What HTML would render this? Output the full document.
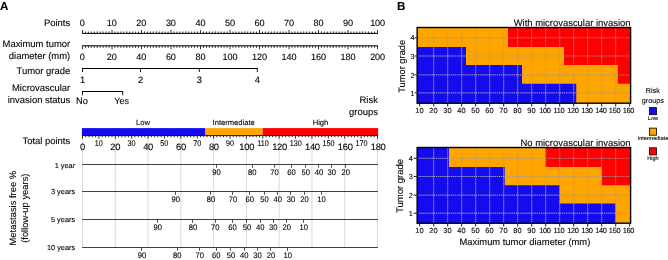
<!DOCTYPE html>
<html lang="en">
<head>
<meta charset="utf-8">
<title>Nomogram and risk groups</title>
<style>
html,body{margin:0;padding:0;background:#fff;}
body{width:668px;height:260px;overflow:hidden;}
svg{display:block;font-family:"Liberation Sans",sans-serif;fill:#000;}
svg text{fill:#000;stroke:#000;stroke-width:0.1px;text-rendering:geometricPrecision;}
</style>
</head>
<body>
<svg width="668" height="260" viewBox="0 0 668 260">
<rect x="0" y="0" width="668" height="260" fill="#fff"/>
<text x="0" y="10.4" font-size="11.6" font-weight="bold">A</text>
<text x="396.9" y="10.4" font-size="11.6" font-weight="bold">B</text>
<text transform="translate(70.2 25.8) scale(1 1.0)" font-size="9.45" text-anchor="end">Points</text>
<line x1="82.1" y1="33.4" x2="378.0" y2="33.4" stroke="#000" stroke-width="1"/>
<path d="M82.50 33.4v-3.5M85.45 33.4v-1.9M88.40 33.4v-1.9M91.35 33.4v-1.9M94.30 33.4v-1.9M97.25 33.4v-2.1M100.20 33.4v-1.9M103.15 33.4v-1.9M106.10 33.4v-1.9M109.05 33.4v-1.9M112.00 33.4v-3.5M114.95 33.4v-1.9M117.90 33.4v-1.9M120.85 33.4v-1.9M123.80 33.4v-1.9M126.75 33.4v-2.1M129.70 33.4v-1.9M132.65 33.4v-1.9M135.60 33.4v-1.9M138.55 33.4v-1.9M141.50 33.4v-3.5M144.45 33.4v-1.9M147.40 33.4v-1.9M150.35 33.4v-1.9M153.30 33.4v-1.9M156.25 33.4v-2.1M159.20 33.4v-1.9M162.15 33.4v-1.9M165.10 33.4v-1.9M168.05 33.4v-1.9M171.00 33.4v-3.5M173.95 33.4v-1.9M176.90 33.4v-1.9M179.85 33.4v-1.9M182.80 33.4v-1.9M185.75 33.4v-2.1M188.70 33.4v-1.9M191.65 33.4v-1.9M194.60 33.4v-1.9M197.55 33.4v-1.9M200.50 33.4v-3.5M203.45 33.4v-1.9M206.40 33.4v-1.9M209.35 33.4v-1.9M212.30 33.4v-1.9M215.25 33.4v-2.1M218.20 33.4v-1.9M221.15 33.4v-1.9M224.10 33.4v-1.9M227.05 33.4v-1.9M230.00 33.4v-3.5M232.95 33.4v-1.9M235.90 33.4v-1.9M238.85 33.4v-1.9M241.80 33.4v-1.9M244.75 33.4v-2.1M247.70 33.4v-1.9M250.65 33.4v-1.9M253.60 33.4v-1.9M256.55 33.4v-1.9M259.50 33.4v-3.5M262.45 33.4v-1.9M265.40 33.4v-1.9M268.35 33.4v-1.9M271.30 33.4v-1.9M274.25 33.4v-2.1M277.20 33.4v-1.9M280.15 33.4v-1.9M283.10 33.4v-1.9M286.05 33.4v-1.9M289.00 33.4v-3.5M291.95 33.4v-1.9M294.90 33.4v-1.9M297.85 33.4v-1.9M300.80 33.4v-1.9M303.75 33.4v-2.1M306.70 33.4v-1.9M309.65 33.4v-1.9M312.60 33.4v-1.9M315.55 33.4v-1.9M318.50 33.4v-3.5M321.45 33.4v-1.9M324.40 33.4v-1.9M327.35 33.4v-1.9M330.30 33.4v-1.9M333.25 33.4v-2.1M336.20 33.4v-1.9M339.15 33.4v-1.9M342.10 33.4v-1.9M345.05 33.4v-1.9M348.00 33.4v-3.5M350.95 33.4v-1.9M353.90 33.4v-1.9M356.85 33.4v-1.9M359.80 33.4v-1.9M362.75 33.4v-2.1M365.70 33.4v-1.9M368.65 33.4v-1.9M371.60 33.4v-1.9M374.55 33.4v-1.9M377.50 33.4v-3.5" stroke="#000" stroke-width="0.8" fill="none"/>
<text transform="translate(82.25 25.6) scale(1 1.0)" font-size="9.1" text-anchor="middle" letter-spacing="-0.1">0</text>
<text transform="translate(111.78 25.6) scale(1 1.0)" font-size="9.1" text-anchor="middle" letter-spacing="-0.1">10</text>
<text transform="translate(141.32 25.6) scale(1 1.0)" font-size="9.1" text-anchor="middle" letter-spacing="-0.1">20</text>
<text transform="translate(170.85 25.6) scale(1 1.0)" font-size="9.1" text-anchor="middle" letter-spacing="-0.1">30</text>
<text transform="translate(200.39 25.6) scale(1 1.0)" font-size="9.1" text-anchor="middle" letter-spacing="-0.1">40</text>
<text transform="translate(229.93 25.6) scale(1 1.0)" font-size="9.1" text-anchor="middle" letter-spacing="-0.1">50</text>
<text transform="translate(259.46 25.6) scale(1 1.0)" font-size="9.1" text-anchor="middle" letter-spacing="-0.1">60</text>
<text transform="translate(289.0 25.6) scale(1 1.0)" font-size="9.1" text-anchor="middle" letter-spacing="-0.1">70</text>
<text transform="translate(318.53 25.6) scale(1 1.0)" font-size="9.1" text-anchor="middle" letter-spacing="-0.1">80</text>
<text transform="translate(348.06 25.6) scale(1 1.0)" font-size="9.1" text-anchor="middle" letter-spacing="-0.1">90</text>
<text transform="translate(377.6 25.6) scale(1 1.0)" font-size="9.1" text-anchor="middle" letter-spacing="-0.1">100</text>
<text transform="translate(70.2 47.3) scale(1 1.0)" font-size="9.45" text-anchor="end">Maximum tumor</text>
<text transform="translate(70.2 58.9) scale(1 1.0)" font-size="9.45" text-anchor="end">diameter (mm)</text>
<line x1="82.1" y1="45.8" x2="378.0" y2="45.8" stroke="#000" stroke-width="1"/>
<path d="M82.50 45.8v3.4M85.45 45.8v2.0M88.40 45.8v2.0M91.35 45.8v2.0M94.30 45.8v2.0M97.25 45.8v2.2M100.20 45.8v2.0M103.15 45.8v2.0M106.10 45.8v2.0M109.05 45.8v2.0M112.00 45.8v3.4M114.95 45.8v2.0M117.90 45.8v2.0M120.85 45.8v2.0M123.80 45.8v2.0M126.75 45.8v2.2M129.70 45.8v2.0M132.65 45.8v2.0M135.60 45.8v2.0M138.55 45.8v2.0M141.50 45.8v3.4M144.45 45.8v2.0M147.40 45.8v2.0M150.35 45.8v2.0M153.30 45.8v2.0M156.25 45.8v2.2M159.20 45.8v2.0M162.15 45.8v2.0M165.10 45.8v2.0M168.05 45.8v2.0M171.00 45.8v3.4M173.95 45.8v2.0M176.90 45.8v2.0M179.85 45.8v2.0M182.80 45.8v2.0M185.75 45.8v2.2M188.70 45.8v2.0M191.65 45.8v2.0M194.60 45.8v2.0M197.55 45.8v2.0M200.50 45.8v3.4M203.45 45.8v2.0M206.40 45.8v2.0M209.35 45.8v2.0M212.30 45.8v2.0M215.25 45.8v2.2M218.20 45.8v2.0M221.15 45.8v2.0M224.10 45.8v2.0M227.05 45.8v2.0M230.00 45.8v3.4M232.95 45.8v2.0M235.90 45.8v2.0M238.85 45.8v2.0M241.80 45.8v2.0M244.75 45.8v2.2M247.70 45.8v2.0M250.65 45.8v2.0M253.60 45.8v2.0M256.55 45.8v2.0M259.50 45.8v3.4M262.45 45.8v2.0M265.40 45.8v2.0M268.35 45.8v2.0M271.30 45.8v2.0M274.25 45.8v2.2M277.20 45.8v2.0M280.15 45.8v2.0M283.10 45.8v2.0M286.05 45.8v2.0M289.00 45.8v3.4M291.95 45.8v2.0M294.90 45.8v2.0M297.85 45.8v2.0M300.80 45.8v2.0M303.75 45.8v2.2M306.70 45.8v2.0M309.65 45.8v2.0M312.60 45.8v2.0M315.55 45.8v2.0M318.50 45.8v3.4M321.45 45.8v2.0M324.40 45.8v2.0M327.35 45.8v2.0M330.30 45.8v2.0M333.25 45.8v2.2M336.20 45.8v2.0M339.15 45.8v2.0M342.10 45.8v2.0M345.05 45.8v2.0M348.00 45.8v3.4M350.95 45.8v2.0M353.90 45.8v2.0M356.85 45.8v2.0M359.80 45.8v2.0M362.75 45.8v2.2M365.70 45.8v2.0M368.65 45.8v2.0M371.60 45.8v2.0M374.55 45.8v2.0M377.50 45.8v3.4" stroke="#000" stroke-width="0.8" fill="none"/>
<text transform="translate(82.25 60.4) scale(1 1.0)" font-size="9.1" text-anchor="middle" letter-spacing="-0.1">0</text>
<text transform="translate(111.78 60.4) scale(1 1.0)" font-size="9.1" text-anchor="middle" letter-spacing="-0.1">20</text>
<text transform="translate(141.32 60.4) scale(1 1.0)" font-size="9.1" text-anchor="middle" letter-spacing="-0.1">40</text>
<text transform="translate(170.85 60.4) scale(1 1.0)" font-size="9.1" text-anchor="middle" letter-spacing="-0.1">60</text>
<text transform="translate(200.39 60.4) scale(1 1.0)" font-size="9.1" text-anchor="middle" letter-spacing="-0.1">80</text>
<text transform="translate(229.93 60.4) scale(1 1.0)" font-size="9.1" text-anchor="middle" letter-spacing="-0.1">100</text>
<text transform="translate(259.46 60.4) scale(1 1.0)" font-size="9.1" text-anchor="middle" letter-spacing="-0.1">120</text>
<text transform="translate(289.0 60.4) scale(1 1.0)" font-size="9.1" text-anchor="middle" letter-spacing="-0.1">140</text>
<text transform="translate(318.53 60.4) scale(1 1.0)" font-size="9.1" text-anchor="middle" letter-spacing="-0.1">160</text>
<text transform="translate(348.06 60.4) scale(1 1.0)" font-size="9.1" text-anchor="middle" letter-spacing="-0.1">180</text>
<text transform="translate(377.6 60.4) scale(1 1.0)" font-size="9.1" text-anchor="middle" letter-spacing="-0.1">200</text>
<text transform="translate(70.2 74.3) scale(1 1.0)" font-size="9.45" text-anchor="end">Tumor grade</text>
<line x1="82.0" y1="68.5" x2="257.8" y2="68.5" stroke="#000" stroke-width="1"/>
<line x1="82.5" y1="68.5" x2="82.5" y2="72.0" stroke="#000" stroke-width="0.9"/>
<text transform="translate(82.5 83.25) scale(1 1.0)" font-size="9.4" text-anchor="middle">1</text>
<line x1="140.5" y1="68.5" x2="140.5" y2="72.0" stroke="#000" stroke-width="0.9"/>
<text transform="translate(140.5 83.25) scale(1 1.0)" font-size="9.4" text-anchor="middle">2</text>
<line x1="199.3" y1="68.5" x2="199.3" y2="72.0" stroke="#000" stroke-width="0.9"/>
<text transform="translate(199.3 83.25) scale(1 1.0)" font-size="9.4" text-anchor="middle">3</text>
<line x1="257.3" y1="68.5" x2="257.3" y2="72.0" stroke="#000" stroke-width="0.9"/>
<text transform="translate(257.3 83.25) scale(1 1.0)" font-size="9.4" text-anchor="middle">4</text>
<text transform="translate(70.2 91.4) scale(1 1.0)" font-size="9.45" text-anchor="end">Microvascular</text>
<text transform="translate(70.2 102.5) scale(1 1.0)" font-size="9.45" text-anchor="end">invasion status</text>
<line x1="82" y1="91.5" x2="123.2" y2="91.5" stroke="#000" stroke-width="1"/>
<line x1="82.5" y1="91.5" x2="82.5" y2="95.3" stroke="#000" stroke-width="0.9"/>
<text transform="translate(81.9 104.0) scale(1 1.0)" font-size="9.3" text-anchor="middle">No</text>
<line x1="122.7" y1="91.5" x2="122.7" y2="95.3" stroke="#000" stroke-width="0.9"/>
<text transform="translate(121.7 104.0) scale(1 1.0)" font-size="9.0" text-anchor="middle">Yes</text>
<text transform="translate(377.9 103.4) scale(1 1.0)" font-size="9.45" text-anchor="end">Risk</text>
<text transform="translate(377.9 115.2) scale(1 1.0)" font-size="9.45" text-anchor="end">groups</text>
<line x1="82.5" y1="135" x2="82.5" y2="247.5" stroke="#d9d9d9" stroke-width="1"/>
<line x1="115.28" y1="135" x2="115.28" y2="247.5" stroke="#d9d9d9" stroke-width="1"/>
<line x1="148.06" y1="135" x2="148.06" y2="247.5" stroke="#d9d9d9" stroke-width="1"/>
<line x1="180.83" y1="135" x2="180.83" y2="247.5" stroke="#d9d9d9" stroke-width="1"/>
<line x1="213.61" y1="135" x2="213.61" y2="247.5" stroke="#d9d9d9" stroke-width="1"/>
<line x1="246.39" y1="135" x2="246.39" y2="247.5" stroke="#d9d9d9" stroke-width="1"/>
<line x1="279.17" y1="135" x2="279.17" y2="247.5" stroke="#d9d9d9" stroke-width="1"/>
<line x1="311.94" y1="135" x2="311.94" y2="247.5" stroke="#d9d9d9" stroke-width="1"/>
<line x1="344.72" y1="135" x2="344.72" y2="247.5" stroke="#d9d9d9" stroke-width="1"/>
<line x1="377.5" y1="135" x2="377.5" y2="247.5" stroke="#d9d9d9" stroke-width="1"/>
<rect x="81.9" y="128.1" width="123.52" height="7.4" fill="#140cee"/>
<rect x="205.42" y="128.1" width="57.28" height="7.4" fill="#ffa500"/>
<rect x="262.70" y="128.1" width="115.40" height="7.4" fill="#ff0000"/>
<text transform="translate(142.9 124.5) scale(1 1.0)" font-size="7.6" text-anchor="middle">Low</text>
<text transform="translate(233.7 124.5) scale(1 1.0)" font-size="7.6" text-anchor="middle">Intermediate</text>
<text transform="translate(320.5 124.5) scale(1 1.0)" font-size="7.6" text-anchor="middle">High</text>
<line x1="82.1" y1="135.6" x2="378.0" y2="135.6" stroke="#000" stroke-width="0.9"/>
<path d="M82.50 135.6v3.0M85.78 135.6v1.7M89.06 135.6v1.7M92.33 135.6v1.7M95.61 135.6v1.7M98.89 135.6v3.0M102.17 135.6v1.7M105.44 135.6v1.7M108.72 135.6v1.7M112.00 135.6v1.7M115.28 135.6v3.0M118.56 135.6v1.7M121.83 135.6v1.7M125.11 135.6v1.7M128.39 135.6v1.7M131.67 135.6v3.0M134.94 135.6v1.7M138.22 135.6v1.7M141.50 135.6v1.7M144.78 135.6v1.7M148.06 135.6v3.0M151.33 135.6v1.7M154.61 135.6v1.7M157.89 135.6v1.7M161.17 135.6v1.7M164.44 135.6v3.0M167.72 135.6v1.7M171.00 135.6v1.7M174.28 135.6v1.7M177.56 135.6v1.7M180.83 135.6v3.0M184.11 135.6v1.7M187.39 135.6v1.7M190.67 135.6v1.7M193.94 135.6v1.7M197.22 135.6v3.0M200.50 135.6v1.7M203.78 135.6v1.7M207.06 135.6v1.7M210.33 135.6v1.7M213.61 135.6v3.0M216.89 135.6v1.7M220.17 135.6v1.7M223.44 135.6v1.7M226.72 135.6v1.7M230.00 135.6v3.0M233.28 135.6v1.7M236.56 135.6v1.7M239.83 135.6v1.7M243.11 135.6v1.7M246.39 135.6v3.0M249.67 135.6v1.7M252.94 135.6v1.7M256.22 135.6v1.7M259.50 135.6v1.7M262.78 135.6v3.0M266.06 135.6v1.7M269.33 135.6v1.7M272.61 135.6v1.7M275.89 135.6v1.7M279.17 135.6v3.0M282.44 135.6v1.7M285.72 135.6v1.7M289.00 135.6v1.7M292.28 135.6v1.7M295.56 135.6v3.0M298.83 135.6v1.7M302.11 135.6v1.7M305.39 135.6v1.7M308.67 135.6v1.7M311.94 135.6v3.0M315.22 135.6v1.7M318.50 135.6v1.7M321.78 135.6v1.7M325.06 135.6v1.7M328.33 135.6v3.0M331.61 135.6v1.7M334.89 135.6v1.7M338.17 135.6v1.7M341.44 135.6v1.7M344.72 135.6v3.0M348.00 135.6v1.7M351.28 135.6v1.7M354.56 135.6v1.7M357.83 135.6v1.7M361.11 135.6v3.0M364.39 135.6v1.7M367.67 135.6v1.7M370.94 135.6v1.7M374.22 135.6v1.7M377.50 135.6v3.0" stroke="#000" stroke-width="0.8" fill="none"/>
<text transform="translate(70.2 143.8) scale(1 1.0)" font-size="9.45" text-anchor="end">Total points</text>
<text transform="translate(82.4 150.0) scale(1 1.0)" font-size="9.4" text-anchor="middle" letter-spacing="-0.3">0</text>
<text transform="translate(98.63 145.6) scale(1 1.15)" font-size="7.2" text-anchor="middle">10</text>
<text transform="translate(115.26 150.0) scale(1 1.0)" font-size="9.4" text-anchor="middle" letter-spacing="-0.3">20</text>
<text transform="translate(131.48 145.6) scale(1 1.15)" font-size="7.2" text-anchor="middle">30</text>
<text transform="translate(148.11 150.0) scale(1 1.0)" font-size="9.4" text-anchor="middle" letter-spacing="-0.3">40</text>
<text transform="translate(164.34 145.6) scale(1 1.15)" font-size="7.2" text-anchor="middle">50</text>
<text transform="translate(180.97 150.0) scale(1 1.0)" font-size="9.4" text-anchor="middle" letter-spacing="-0.3">60</text>
<text transform="translate(197.19 145.6) scale(1 1.15)" font-size="7.2" text-anchor="middle">70</text>
<text transform="translate(213.82 150.0) scale(1 1.0)" font-size="9.4" text-anchor="middle" letter-spacing="-0.3">80</text>
<text transform="translate(230.05 145.6) scale(1 1.15)" font-size="7.2" text-anchor="middle">90</text>
<text transform="translate(246.68 150.0) scale(1 1.0)" font-size="9.4" text-anchor="middle" letter-spacing="-0.3">100</text>
<text transform="translate(262.91 145.6) scale(1 1.15)" font-size="7.2" text-anchor="middle">110</text>
<text transform="translate(279.53 150.0) scale(1 1.0)" font-size="9.4" text-anchor="middle" letter-spacing="-0.3">120</text>
<text transform="translate(295.76 145.6) scale(1 1.15)" font-size="7.2" text-anchor="middle">130</text>
<text transform="translate(312.39 150.0) scale(1 1.0)" font-size="9.4" text-anchor="middle" letter-spacing="-0.3">140</text>
<text transform="translate(328.62 145.6) scale(1 1.15)" font-size="7.2" text-anchor="middle">150</text>
<text transform="translate(345.24 150.0) scale(1 1.0)" font-size="9.4" text-anchor="middle" letter-spacing="-0.3">160</text>
<text transform="translate(361.47 145.6) scale(1 1.15)" font-size="7.2" text-anchor="middle">170</text>
<text transform="translate(378.1 150.0) scale(1 1.0)" font-size="9.4" text-anchor="middle" letter-spacing="-0.3">180</text>
<line x1="82.2" y1="164.5" x2="377.9" y2="164.5" stroke="#2a2a2a" stroke-width="0.9"/>
<text x="75.1" y="167.5" font-size="7.35" text-anchor="end">1 year</text>
<text transform="translate(216.45 174.9) scale(1 1.05)" font-size="7.65" text-anchor="middle">90</text>
<text transform="translate(252.2 174.9) scale(1 1.05)" font-size="7.65" text-anchor="middle">80</text>
<text transform="translate(274.6 174.9) scale(1 1.05)" font-size="7.65" text-anchor="middle">70</text>
<text transform="translate(291.4 174.9) scale(1 1.05)" font-size="7.65" text-anchor="middle">60</text>
<text transform="translate(305.7 174.9) scale(1 1.05)" font-size="7.65" text-anchor="middle">50</text>
<text transform="translate(319.1 174.9) scale(1 1.05)" font-size="7.65" text-anchor="middle">40</text>
<text transform="translate(331.8 174.9) scale(1 1.05)" font-size="7.65" text-anchor="middle">30</text>
<text transform="translate(345.7 174.9) scale(1 1.05)" font-size="7.65" text-anchor="middle">20</text>
<path d="M216.5 164.5v3.3M252.5 164.5v3.3M274.5 164.5v3.3M291.5 164.5v3.3M305.5 164.5v3.3M318.5 164.5v3.3M331.5 164.5v3.3M345.5 164.5v3.3" stroke="#222" stroke-width="0.8" fill="none"/>
<line x1="82.2" y1="191.5" x2="377.9" y2="191.5" stroke="#2a2a2a" stroke-width="0.9"/>
<text x="75.1" y="193.5" font-size="7.35" text-anchor="end">3 years</text>
<text transform="translate(175.7 201.9) scale(1 1.05)" font-size="7.65" text-anchor="middle">90</text>
<text transform="translate(210.95 201.9) scale(1 1.05)" font-size="7.65" text-anchor="middle">80</text>
<text transform="translate(232.95 201.9) scale(1 1.05)" font-size="7.65" text-anchor="middle">70</text>
<text transform="translate(249.7 201.9) scale(1 1.05)" font-size="7.65" text-anchor="middle">60</text>
<text transform="translate(264.45 201.9) scale(1 1.05)" font-size="7.65" text-anchor="middle">50</text>
<text transform="translate(277.8 201.9) scale(1 1.05)" font-size="7.65" text-anchor="middle">40</text>
<text transform="translate(290.9 201.9) scale(1 1.05)" font-size="7.65" text-anchor="middle">30</text>
<text transform="translate(304.4 201.9) scale(1 1.05)" font-size="7.65" text-anchor="middle">20</text>
<text transform="translate(321.45 201.9) scale(1 1.05)" font-size="7.65" text-anchor="middle">10</text>
<path d="M175.5 191.5v3.3M210.5 191.5v3.3M232.5 191.5v3.3M249.5 191.5v3.3M264.5 191.5v3.3M277.5 191.5v3.3M290.5 191.5v3.3M304.5 191.5v3.3M321.5 191.5v3.3" stroke="#222" stroke-width="0.8" fill="none"/>
<line x1="82.2" y1="219.5" x2="377.9" y2="219.5" stroke="#2a2a2a" stroke-width="0.9"/>
<text x="75.1" y="221.6" font-size="7.35" text-anchor="end">5 years</text>
<text transform="translate(157.7 229.9) scale(1 1.05)" font-size="7.65" text-anchor="middle">90</text>
<text transform="translate(192.95 229.9) scale(1 1.05)" font-size="7.65" text-anchor="middle">80</text>
<text transform="translate(215.2 229.9) scale(1 1.05)" font-size="7.65" text-anchor="middle">70</text>
<text transform="translate(232.6 229.9) scale(1 1.05)" font-size="7.65" text-anchor="middle">60</text>
<text transform="translate(246.95 229.9) scale(1 1.05)" font-size="7.65" text-anchor="middle">50</text>
<text transform="translate(260.2 229.9) scale(1 1.05)" font-size="7.65" text-anchor="middle">40</text>
<text transform="translate(273.2 229.9) scale(1 1.05)" font-size="7.65" text-anchor="middle">30</text>
<text transform="translate(286.7 229.9) scale(1 1.05)" font-size="7.65" text-anchor="middle">20</text>
<text transform="translate(303.7 229.9) scale(1 1.05)" font-size="7.65" text-anchor="middle">10</text>
<path d="M157.5 219.5v3.3M192.5 219.5v3.3M215.5 219.5v3.3M232.5 219.5v3.3M246.5 219.5v3.3M260.5 219.5v3.3M273.5 219.5v3.3M286.5 219.5v3.3M303.5 219.5v3.3" stroke="#222" stroke-width="0.8" fill="none"/>
<line x1="82.2" y1="247.5" x2="377.9" y2="247.5" stroke="#2a2a2a" stroke-width="0.9"/>
<text x="75.1" y="249.6" font-size="7.35" text-anchor="end">10 years</text>
<text transform="translate(141.95 257.9) scale(1 1.05)" font-size="7.65" text-anchor="middle">90</text>
<text transform="translate(177.2 257.9) scale(1 1.05)" font-size="7.65" text-anchor="middle">80</text>
<text transform="translate(199.7 257.9) scale(1 1.05)" font-size="7.65" text-anchor="middle">70</text>
<text transform="translate(216.2 257.9) scale(1 1.05)" font-size="7.65" text-anchor="middle">60</text>
<text transform="translate(230.95 257.9) scale(1 1.05)" font-size="7.65" text-anchor="middle">50</text>
<text transform="translate(244.3 257.9) scale(1 1.05)" font-size="7.65" text-anchor="middle">40</text>
<text transform="translate(257.45 257.9) scale(1 1.05)" font-size="7.65" text-anchor="middle">30</text>
<text transform="translate(270.95 257.9) scale(1 1.05)" font-size="7.65" text-anchor="middle">20</text>
<text transform="translate(287.7 257.9) scale(1 1.05)" font-size="7.65" text-anchor="middle">10</text>
<path d="M141.5 247.5v3.3M177.5 247.5v3.3M199.5 247.5v3.3M216.5 247.5v3.3M230.5 247.5v3.3M244.5 247.5v3.3M257.5 247.5v3.3M270.5 247.5v3.3M287.5 247.5v3.3" stroke="#222" stroke-width="0.8" fill="none"/>
<text transform="translate(16.1 208.2) rotate(-90)" font-size="9.4" text-anchor="middle">Metastasis free %</text>
<text transform="translate(27.8 208.2) rotate(-90)" font-size="9.4" text-anchor="middle">(follow-up years)</text>
<rect x="417.15" y="27.5" width="213.45" height="75.70" fill="#ffa500"/>
<polygon points="417.15,27.5 417.15,27.5 417.15,46.9 466,46.9 466,65.1 522,65.1 522,83.7 576.25,83.7 576.25,103.2 417.15,103.2" fill="#140cee"/>
<clipPath id="bluezone1"><polygon points="417.15,27.5 417.15,27.5 417.15,46.9 466,46.9 466,65.1 522,65.1 522,83.7 576.25,83.7 576.25,103.2 417.15,103.2"/></clipPath>
<polygon points="630.6,27.5 508,27.5 508,46.9 564,46.9 564,65.1 617.75,65.1 617.75,83.7 630.6,83.7 630.6,103.2 630.6,103.2" fill="#ff0000"/>
<path d="M433.70 27.5V103.2M447.70 27.5V103.2M461.70 27.5V103.2M475.70 27.5V103.2M489.70 27.5V103.2M503.70 27.5V103.2M517.70 27.5V103.2M531.70 27.5V103.2M545.70 27.5V103.2M559.70 27.5V103.2M573.70 27.5V103.2M587.70 27.5V103.2M601.70 27.5V103.2M615.70 27.5V103.2M417.15 37.8H630.6M417.15 56.0H630.6M417.15 74.9H630.6M417.15 92.9H630.6" stroke="#8c8c8c" stroke-width="1" fill="none" opacity="0.28"/>
<path d="M433.70 27.5V103.2M447.70 27.5V103.2M461.70 27.5V103.2M475.70 27.5V103.2M489.70 27.5V103.2M503.70 27.5V103.2M517.70 27.5V103.2M531.70 27.5V103.2M545.70 27.5V103.2M559.70 27.5V103.2M573.70 27.5V103.2M587.70 27.5V103.2M601.70 27.5V103.2M615.70 27.5V103.2M417.15 37.8H630.6M417.15 56.0H630.6M417.15 74.9H630.6M417.15 92.9H630.6" stroke="#a8a8a8" stroke-width="1.0" stroke-dasharray="1.1 1.0" fill="none" opacity="0.6"/>
<path d="M433.70 27.5V103.2M447.70 27.5V103.2M461.70 27.5V103.2M475.70 27.5V103.2M489.70 27.5V103.2M503.70 27.5V103.2M517.70 27.5V103.2M531.70 27.5V103.2M545.70 27.5V103.2M559.70 27.5V103.2M573.70 27.5V103.2M587.70 27.5V103.2M601.70 27.5V103.2M615.70 27.5V103.2M417.15 37.8H630.6M417.15 56.0H630.6M417.15 74.9H630.6M417.15 92.9H630.6" clip-path="url(#bluezone1)" stroke="#d0d0ff" stroke-width="1.0" stroke-dasharray="1.1 1.0" fill="none" opacity="0.35"/>
<rect x="417.15" y="27.5" width="213.45" height="75.70" fill="none" stroke="#000" stroke-width="1.4"/>
<path d="M419.70 103.7v2.8M433.70 103.7v2.8M447.70 103.7v2.8M461.70 103.7v2.8M475.70 103.7v2.8M489.70 103.7v2.8M503.70 103.7v2.8M517.70 103.7v2.8M531.70 103.7v2.8M545.70 103.7v2.8M559.70 103.7v2.8M573.70 103.7v2.8M587.70 103.7v2.8M601.70 103.7v2.8M615.70 103.7v2.8M629.70 103.7v2.8M416.65 37.8h-2.0M416.65 56.0h-2.0M416.65 74.9h-2.0M416.65 92.9h-2.0" stroke="#000" stroke-width="0.9" fill="none"/>
<text transform="translate(419.4 113.0) scale(1 1.0)" font-size="7.4" text-anchor="middle">10</text>
<text transform="translate(433.4 113.0) scale(1 1.0)" font-size="7.4" text-anchor="middle">20</text>
<text transform="translate(447.4 113.0) scale(1 1.0)" font-size="7.4" text-anchor="middle">30</text>
<text transform="translate(461.4 113.0) scale(1 1.0)" font-size="7.4" text-anchor="middle">40</text>
<text transform="translate(475.4 113.0) scale(1 1.0)" font-size="7.4" text-anchor="middle">50</text>
<text transform="translate(489.4 113.0) scale(1 1.0)" font-size="7.4" text-anchor="middle">60</text>
<text transform="translate(503.4 113.0) scale(1 1.0)" font-size="7.4" text-anchor="middle">70</text>
<text transform="translate(517.4 113.0) scale(1 1.0)" font-size="7.4" text-anchor="middle">80</text>
<text transform="translate(531.4 113.0) scale(1 1.0)" font-size="7.4" text-anchor="middle">90</text>
<text transform="translate(544.95 113.0) scale(1 1.0)" font-size="7.4" text-anchor="middle" letter-spacing="-0.3">100</text>
<text transform="translate(558.95 113.0) scale(1 1.0)" font-size="7.4" text-anchor="middle" letter-spacing="-0.3">110</text>
<text transform="translate(572.95 113.0) scale(1 1.0)" font-size="7.4" text-anchor="middle" letter-spacing="-0.3">120</text>
<text transform="translate(586.95 113.0) scale(1 1.0)" font-size="7.4" text-anchor="middle" letter-spacing="-0.3">130</text>
<text transform="translate(600.95 113.0) scale(1 1.0)" font-size="7.4" text-anchor="middle" letter-spacing="-0.3">140</text>
<text transform="translate(614.55 113.0) scale(1 1.0)" font-size="7.4" text-anchor="middle" letter-spacing="-0.3">150</text>
<text transform="translate(628.35 113.0) scale(1 1.0)" font-size="7.4" text-anchor="middle" letter-spacing="-0.3">160</text>
<text transform="translate(414.5 40.4) scale(1 1.0)" font-size="7.3" text-anchor="end">4</text>
<text transform="translate(414.5 58.6) scale(1 1.0)" font-size="7.3" text-anchor="end">3</text>
<text transform="translate(414.5 77.5) scale(1 1.0)" font-size="7.3" text-anchor="end">2</text>
<text transform="translate(414.5 95.5) scale(1 1.0)" font-size="7.3" text-anchor="end">1</text>
<text transform="translate(630.6 26.3) scale(1 1.0)" font-size="9.45" text-anchor="end">With microvascular invasion</text>
<text transform="translate(405 66.3) rotate(-90)" font-size="9.3" text-anchor="middle">Tumor grade</text>
<rect x="417.15" y="147.5" width="213.45" height="75.70" fill="#ffa500"/>
<polygon points="417.15,147.5 449,147.5 449,167.0 504.75,167.0 504.75,185.2 559.75,185.2 559.75,203.4 615.5,203.4 615.5,223.2 417.15,223.2" fill="#140cee"/>
<clipPath id="bluezone2"><polygon points="417.15,147.5 449,147.5 449,167.0 504.75,167.0 504.75,185.2 559.75,185.2 559.75,203.4 615.5,203.4 615.5,223.2 417.15,223.2"/></clipPath>
<polygon points="630.6,147.5 545.5,147.5 545.5,167.0 601.75,167.0 601.75,185.2 630.6,185.2 630.6,203.4 630.6,203.4 630.6,223.2 630.6,223.2" fill="#ff0000"/>
<path d="M433.70 147.5V223.2M447.70 147.5V223.2M461.70 147.5V223.2M475.70 147.5V223.2M489.70 147.5V223.2M503.70 147.5V223.2M517.70 147.5V223.2M531.70 147.5V223.2M545.70 147.5V223.2M559.70 147.5V223.2M573.70 147.5V223.2M587.70 147.5V223.2M601.70 147.5V223.2M615.70 147.5V223.2M417.15 158.3H630.6M417.15 176.5H630.6M417.15 195.1H630.6M417.15 213.2H630.6" stroke="#8c8c8c" stroke-width="1" fill="none" opacity="0.28"/>
<path d="M433.70 147.5V223.2M447.70 147.5V223.2M461.70 147.5V223.2M475.70 147.5V223.2M489.70 147.5V223.2M503.70 147.5V223.2M517.70 147.5V223.2M531.70 147.5V223.2M545.70 147.5V223.2M559.70 147.5V223.2M573.70 147.5V223.2M587.70 147.5V223.2M601.70 147.5V223.2M615.70 147.5V223.2M417.15 158.3H630.6M417.15 176.5H630.6M417.15 195.1H630.6M417.15 213.2H630.6" stroke="#a8a8a8" stroke-width="1.0" stroke-dasharray="1.1 1.0" fill="none" opacity="0.6"/>
<path d="M433.70 147.5V223.2M447.70 147.5V223.2M461.70 147.5V223.2M475.70 147.5V223.2M489.70 147.5V223.2M503.70 147.5V223.2M517.70 147.5V223.2M531.70 147.5V223.2M545.70 147.5V223.2M559.70 147.5V223.2M573.70 147.5V223.2M587.70 147.5V223.2M601.70 147.5V223.2M615.70 147.5V223.2M417.15 158.3H630.6M417.15 176.5H630.6M417.15 195.1H630.6M417.15 213.2H630.6" clip-path="url(#bluezone2)" stroke="#d0d0ff" stroke-width="1.0" stroke-dasharray="1.1 1.0" fill="none" opacity="0.35"/>
<rect x="417.15" y="147.5" width="213.45" height="75.70" fill="none" stroke="#000" stroke-width="1.4"/>
<path d="M419.70 223.7v2.8M433.70 223.7v2.8M447.70 223.7v2.8M461.70 223.7v2.8M475.70 223.7v2.8M489.70 223.7v2.8M503.70 223.7v2.8M517.70 223.7v2.8M531.70 223.7v2.8M545.70 223.7v2.8M559.70 223.7v2.8M573.70 223.7v2.8M587.70 223.7v2.8M601.70 223.7v2.8M615.70 223.7v2.8M629.70 223.7v2.8M416.65 158.3h-3.0M416.65 176.5h-3.0M416.65 195.1h-3.0M416.65 213.2h-3.0" stroke="#000" stroke-width="0.9" fill="none"/>
<text transform="translate(419.4 233.0) scale(1 1.0)" font-size="7.4" text-anchor="middle">10</text>
<text transform="translate(433.4 233.0) scale(1 1.0)" font-size="7.4" text-anchor="middle">20</text>
<text transform="translate(447.4 233.0) scale(1 1.0)" font-size="7.4" text-anchor="middle">30</text>
<text transform="translate(461.4 233.0) scale(1 1.0)" font-size="7.4" text-anchor="middle">40</text>
<text transform="translate(475.4 233.0) scale(1 1.0)" font-size="7.4" text-anchor="middle">50</text>
<text transform="translate(489.4 233.0) scale(1 1.0)" font-size="7.4" text-anchor="middle">60</text>
<text transform="translate(503.4 233.0) scale(1 1.0)" font-size="7.4" text-anchor="middle">70</text>
<text transform="translate(517.4 233.0) scale(1 1.0)" font-size="7.4" text-anchor="middle">80</text>
<text transform="translate(531.4 233.0) scale(1 1.0)" font-size="7.4" text-anchor="middle">90</text>
<text transform="translate(544.95 233.0) scale(1 1.0)" font-size="7.4" text-anchor="middle" letter-spacing="-0.3">100</text>
<text transform="translate(558.95 233.0) scale(1 1.0)" font-size="7.4" text-anchor="middle" letter-spacing="-0.3">110</text>
<text transform="translate(572.95 233.0) scale(1 1.0)" font-size="7.4" text-anchor="middle" letter-spacing="-0.3">120</text>
<text transform="translate(586.95 233.0) scale(1 1.0)" font-size="7.4" text-anchor="middle" letter-spacing="-0.3">130</text>
<text transform="translate(600.95 233.0) scale(1 1.0)" font-size="7.4" text-anchor="middle" letter-spacing="-0.3">140</text>
<text transform="translate(614.55 233.0) scale(1 1.0)" font-size="7.4" text-anchor="middle" letter-spacing="-0.3">150</text>
<text transform="translate(628.35 233.0) scale(1 1.0)" font-size="7.4" text-anchor="middle" letter-spacing="-0.3">160</text>
<text transform="translate(412.8 160.9) scale(1 1.0)" font-size="7.3" text-anchor="end">4</text>
<text transform="translate(412.8 179.1) scale(1 1.0)" font-size="7.3" text-anchor="end">3</text>
<text transform="translate(412.8 197.7) scale(1 1.0)" font-size="7.3" text-anchor="end">2</text>
<text transform="translate(412.8 215.8) scale(1 1.0)" font-size="7.3" text-anchor="end">1</text>
<text transform="translate(630.6 146.3) scale(1 1.0)" font-size="9.45" text-anchor="end">No microvascular invasion</text>
<text transform="translate(402.9 186.0) rotate(-90)" font-size="9.5" text-anchor="middle">Tumor grade</text>
<text transform="translate(524.9 244.7) scale(1 1.0)" font-size="9.4" text-anchor="middle">Maximum tumor diameter (mm)</text>
<text transform="translate(652.8 92.8) scale(1 1.0)" font-size="7.2" text-anchor="middle">Risk</text>
<text transform="translate(652.8 102.6) scale(1 1.0)" font-size="7.2" text-anchor="middle">groups</text>
<rect x="649.4" y="107.6" width="7.1" height="7.1" fill="#140cee" stroke="#000" stroke-width="0.8"/>
<text transform="translate(652.9 119.7) scale(1 1.0)" font-size="5.5" text-anchor="middle">Low</text>
<rect x="649.4" y="128.1" width="7.1" height="7.1" fill="#ffa500" stroke="#000" stroke-width="0.8"/>
<text transform="translate(652.9 140.2) scale(1 1.0)" font-size="5.5" text-anchor="middle">Intermediate</text>
<rect x="649.4" y="147.8" width="7.1" height="7.1" fill="#ff0000" stroke="#000" stroke-width="0.8"/>
<text transform="translate(652.9 159.9) scale(1 1.0)" font-size="5.5" text-anchor="middle">High</text>
</svg>
</body>
</html>
